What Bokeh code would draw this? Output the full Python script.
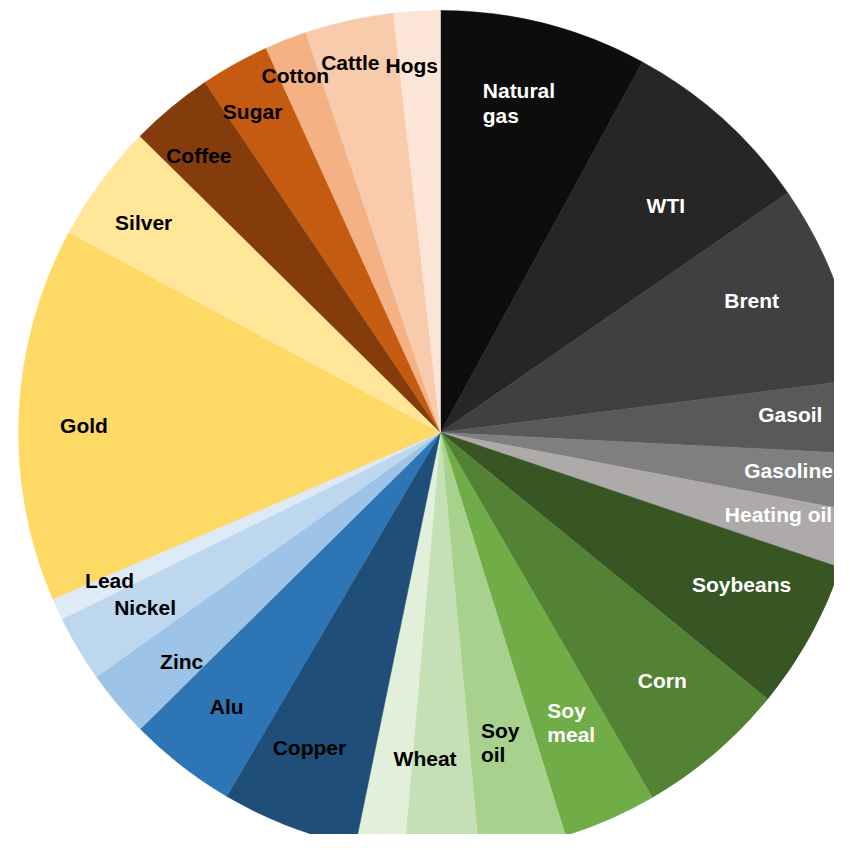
import math
import numpy as np
from bokeh.plotting import figure
from bokeh.models import ColumnDataSource, Range1d
from bokeh.core.properties import value
from bokeh.embed import file_html
from bokeh.resources import INLINE

# ---- data (index weights, %) ----
categories = ["Natural gas", "WTI", "Brent", "Gasoil", "Gasoline", "Heating oil",
              "Soybeans", "Corn", "Soy meal", "Soy oil", "Wheat", "KC wheat",
              "Copper", "Alu", "Zinc", "Nickel", "Lead",
              "Gold", "Silver", "Coffee", "Sugar", "Cotton", "Cattle", "Hogs"]
labels = ["Natural\ngas", "WTI", "Brent", "Gasoil", "Gasoline", "Heating oil",
          "Soybeans", "Corn", "Soy\nmeal", "Soy\noil", "Wheat", "",
          "Copper", "Alu", "Zinc", "Nickel", "Lead",
          "Gold", "Silver", "Coffee", "Sugar", "Cotton", "Cattle", "Hogs"]
weights = [7.94, 7.44, 7.61, 2.81, 2.19, 2.19,
           5.69, 5.75, 3.58, 3.33, 2.83, 1.86,
           5.22, 4.14, 2.58, 2.53, 0.83,
           14.31, 4.53, 3.19, 2.64, 1.61, 3.39, 1.78]
# number of consecutive slices a label is placed over (Wheat covers both wheat slices)
label_span = [1] * 10 + [2, 1] + [1] * 12

# ---- styles ----
colors = ["#0d0d0d", "#262626", "#404040", "#595959", "#7f7f7f", "#aeaaaa",
          "#375623", "#548235", "#70ad47", "#a9d18e", "#c5e0b4", "#e2efda",
          "#1f4e79", "#2e75b6", "#9dc3e6", "#bdd7ee", "#deebf7",
          "#ffd966", "#ffe699", "#843c0c", "#c55a11", "#f4b183", "#f8cbad", "#fbe5d6"]
text_colors = ["white"] * 9 + ["black"] * 15
# label placement: fraction along the slice's arc, fraction of radius
label_f = [0.47, 0.61, 0.43, 0.44, 0.44, 0.39,
           0.40, 0.44, 0.46, 0.53, 0.47, 0.5,
           0.58, 0.50, 0.33, 0.50, 0.67,
           0.47, 0.42, 0.37, 0.37, 0.38, 0.40, 0.30]
label_r = [0.80, 0.756, 0.80, 0.83, 0.83, 0.825,
           0.80, 0.79, 0.756, 0.75, 0.775, 0.8,
           0.81, 0.825, 0.82, 0.815, 0.86,
           0.845, 0.86, 0.87, 0.88, 0.91, 0.90, 0.87]

W = H = 834
cx, cy, R = 440, 402, 422
text_dy = 1

w = np.array(weights, dtype=float)
ends = np.cumsum(w) / w.sum() * 2 * math.pi
starts = np.concatenate([[0.0], ends[:-1]])

wedge_src = ColumnDataSource(dict(
    cat=categories,
    start=(math.pi / 2 - starts).tolist(),
    end=(math.pi / 2 - ends).tolist(),
    color=colors,
))

lx, ly, lt, lc = [], [], [], []
for i, (f, r, t, c) in enumerate(zip(label_f, label_r, labels, text_colors)):
    if not t:
        continue
    a0, a1 = starts[i], ends[i + label_span[i] - 1]
    m = a0 + f * (a1 - a0)
    lx.append(cx + r * R * math.sin(m))
    ly.append(cy + r * R * math.cos(m) + text_dy)
    lt.append(t)
    lc.append(c)
text_src = ColumnDataSource(dict(x=lx, y=ly, text=lt, color=lc))

p = figure(width=W, height=H, x_range=Range1d(0, W), y_range=Range1d(0, H),
           output_backend="svg", toolbar_location=None, min_border=0)
p.axis.visible = False
p.grid.visible = False
p.outline_line_color = None
p.background_fill_color = "white"
p.border_fill_color = "white"

p.wedge(x=cx, y=cy, radius=R, start_angle="start", end_angle="end",
        direction="clock", fill_color="color", line_color="color",
        line_width=0.5, source=wedge_src)

p.text(x="x", y="y", text="text", source=text_src, text_color="color",
       text_font=value("Liberation Sans"), text_font_style="bold",
       text_font_size="21px", text_align="left", anchor="center",
       text_line_height=1.06)

open("out.html", "w").write(file_html(p, INLINE))
